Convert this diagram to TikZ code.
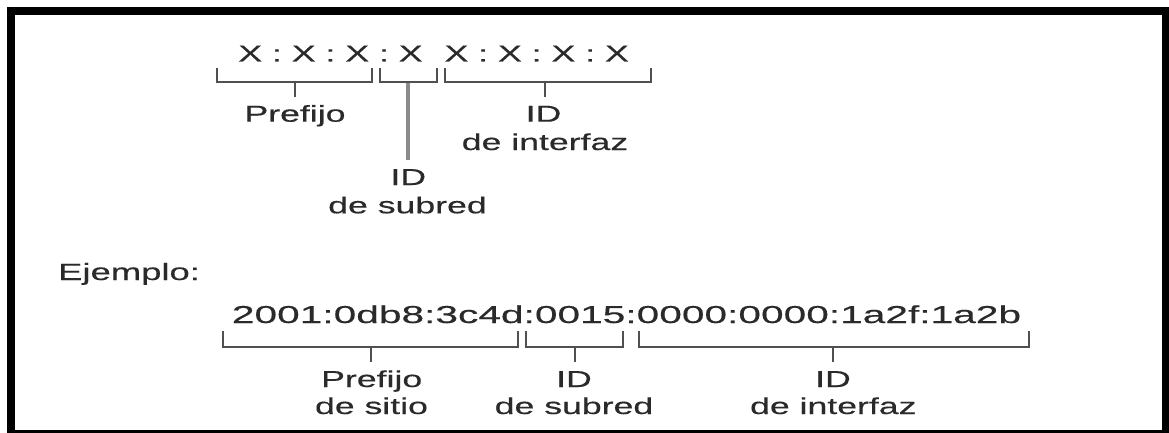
\documentclass[tikz,border=0pt]{standalone}
\usepackage{fontspec}
\setmainfont{Liberation Sans}
\newfontfamily\lblfont{Liberation Sans}[FakeStretch=1.55,FakeBold=0.4]
\newfontfamily\exfont{Liberation Sans}[FakeStretch=1.66,FakeBold=0.4]
\definecolor{txtc}{HTML}{2A2A2A}
\definecolor{brkc}{HTML}{505050}
\definecolor{longc}{HTML}{8A8A8A}
\tikzset{
  lbl/.style={font=\lblfont\fontsize{23}{28}\selectfont, text=txtc, inner sep=0pt, anchor=base},
  exlbl/.style={font=\exfont\fontsize{24.5}{29}\selectfont, text=txtc, inner sep=0pt, anchor=base west},
  brk/.style={draw=brkc, line width=2pt},
  longln/.style={draw=longc, line width=4pt},
  frame/.style={draw=black, line width=8pt}
}
\begin{document}
\begin{tikzpicture}[x=1pt,y=-1pt]
\useasboundingbox (0,0) rectangle (1169,433);
\fill[white] (0,0) rectangle (1169,433);
\draw[frame] (11,11) rectangle (1166,434);

% ---------- general format ----------
\node[lbl] (xa) at (330.5,61.5) {X : X : X : X};
\node[lbl] (xb) at (536.7,61.5) {X : X : X : X};

% brackets (top)
\draw[brk] (216.7,68.3) -- (216.7,81.7) -- (371.7,81.7) -- (371.7,68.3);
\draw[brk] (379.5,68.3) -- (379.5,81.7) -- (437,81.7) -- (437,68.3);
\draw[brk] (445,68.3) -- (445,81.7) -- (650.7,81.7) -- (650.7,68.3);
\coordinate (m1) at (295,81.7);
\coordinate (m2) at (408.3,82.7);
\coordinate (m3) at (545,81.7);
\coordinate (e1) at (295,96.7);
\coordinate (e2) at (408.3,160);
\coordinate (e3) at (545,96.7);

\node[lbl] (pf) at (295,121.7) {Prefijo};
\node[lbl] (idi) at (543.5,121.7) {ID};
\node[lbl] (dei) at (545,150) {de interfaz};
\node[lbl] (ids) at (408.3,185) {ID};
\node[lbl] (des) at (407.5,213.3) {de subred};

\draw[brk] (m1) -- (e1);
\draw[longln] (m2) -- (e2);
\draw[brk] (m3) -- (e3);

% ---------- example ----------
\node[lbl, anchor=base west, font=\lblfont\fontsize{23.5}{28}\selectfont] (ej) at (58,280) {Ejemplo:};
\node[exlbl] (ex) at (231.7,323) {2001:0db8:3c4d:0015:0000:0000:1a2f:1a2b};

\draw[brk] (222.7,331) -- (222.7,346.7) -- (518.3,346.7) -- (518.3,331);
\draw[brk] (525.5,331) -- (525.5,346.7) -- (623,346.7) -- (623,331);
\draw[brk] (639,331) -- (639,346.7) -- (1029,346.7) -- (1029,331);
\coordinate (n1) at (370.7,346.7);
\coordinate (n2) at (574.5,346.7);
\coordinate (n3) at (833.3,346.7);
\coordinate (f1) at (370.7,361.7);
\coordinate (f2) at (574.5,361.7);
\coordinate (f3) at (833.3,361.7);
\draw[brk] (n1) -- (f1);
\draw[brk] (n2) -- (f2);
\draw[brk] (n3) -- (f3);

\node[lbl] (bpf) at (371.7,387) {Prefijo};
\node[lbl] (bds) at (371.5,414) {de sitio};
\node[lbl] (bid) at (574,387) {ID};
\node[lbl] (bsr) at (574,414) {de subred};
\node[lbl] (bii) at (833,387) {ID};
\node[lbl] (bif) at (833.3,414) {de interfaz};
\end{tikzpicture}
\end{document}
